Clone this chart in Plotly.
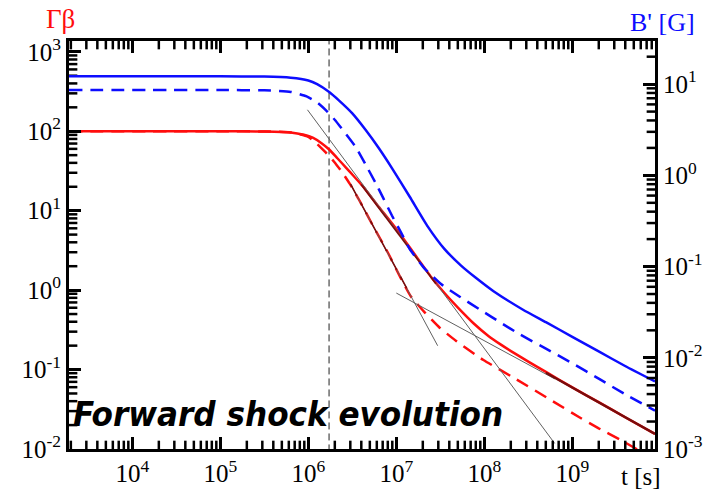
import plotly.graph_objects as go

# ---------------- data ----------------
# time grid values are log10(t [s]); curve values are log10 of the quantity
red_solid_logt = [3.28, 5.0, 5.5, 5.8, 5.95, 6.05, 6.15, 6.237, 6.33, 6.43, 6.52, 6.617, 6.8, 7.0, 7.2, 7.4,
                  7.55, 7.7, 7.88, 8.05, 8.18, 8.35, 8.5, 8.7, 9.0, 9.3, 9.6, 9.94]
red_solid_logv = [2.0, 2.0, 1.997, 1.985, 1.955, 1.92, 1.85, 1.77, 1.66, 1.54, 1.43, 1.31, 1.05, 0.77, 0.465, 0.16,
                  -0.04, -0.22, -0.42, -0.58, -0.68, -0.80, -0.90, -1.03, -1.225, -1.41, -1.60, -1.81]

red_dash_logt = [3.28, 5.0, 5.5, 5.8, 6.0, 6.1, 6.2, 6.29, 6.38, 6.47, 6.57, 6.73, 6.9, 7.06, 7.166, 7.322,
                 7.49, 7.68, 7.99, 8.36, 8.78, 9.08, 9.3, 9.54, 9.69, 9.94]
red_dash_logv = [2.0, 2.0, 1.997, 1.985, 1.93, 1.84, 1.73, 1.62, 1.49, 1.34, 1.15, 0.82, 0.48, 0.13, -0.08, -0.28,
                 -0.47, -0.64, -0.88, -1.12, -1.40, -1.60, -1.74, -1.88, -1.975, -2.13]

blue_solid_logt = [3.28, 5.0, 5.5, 5.8, 6.0, 6.1, 6.237, 6.35, 6.5, 6.65, 6.8, 6.95, 7.154, 7.356, 7.546, 7.736,
                   7.9, 8.105, 8.44, 8.7, 9.0, 9.3, 9.6, 9.94]
blue_solid_logv = [1.086, 1.086, 1.083, 1.07, 1.04, 1.00, 0.914, 0.82, 0.68, 0.50, 0.30, 0.08, -0.237, -0.559, -0.806, -0.989,
                   -1.12, -1.27, -1.473, -1.61, -1.77, -1.93, -2.09, -2.26]

blue_dash_logt = [3.28, 5.0, 5.5, 5.8, 5.98, 6.1, 6.204, 6.3, 6.394, 6.539, 6.65, 6.763, 6.852, 6.95, 7.05, 7.154,
                  7.322, 7.512, 7.725, 7.971, 8.183, 8.407, 8.7, 9.0, 9.32, 9.6, 9.94]
blue_dash_logv = [0.935, 0.935, 0.932, 0.915, 0.865, 0.80, 0.71, 0.61, 0.495, 0.31, 0.12, -0.08, -0.25, -0.44, -0.62, -0.81,
                  -1.022, -1.194, -1.333, -1.484, -1.613, -1.745, -1.90, -2.06, -2.24, -2.40, -2.58]

# analytic power-law segments (grey guide lines), log10 units
grey_a_logt = [5.99, 8.80]
grey_a_logv = [2.27, -1.93]
grey_b_logt = [6.48, 7.47]
grey_b_logv = [1.333, -0.70]
grey_c_logt = [7.0, 8.8]
grey_c_logv = [-0.037, -1.117]

# dark red analytic overlays
dr_solid1_logt = [6.6, 7.45]
dr_solid1_logv = [1.33, 0.08]
dr_solid2_logt = [8.7, 9.94]
dr_solid2_logv = [-1.04, -1.81]
dr_dash_logt = [6.48, 7.15]
dr_dash_logv = [1.333, -0.04]

t_vline = 1.72e6

x_tickvals = [1e4, 1e5, 1e6, 1e7, 1e8, 1e9]
x_ticktext = ["10<sup>4</sup>", "10<sup>5</sup>", "10<sup>6</sup>", "10<sup>7</sup>", "10<sup>8</sup>", "10<sup>9</sup>"]
yl_tickvals = [1e-2, 1e-1, 1e0, 1e1, 1e2, 1e3]
yl_ticktext = ["10<sup>-2</sup>", "10<sup>-1</sup>", "10<sup>0</sup>", "10<sup>1</sup>", "10<sup>2</sup>", "10<sup>3</sup>"]
yr_tickvals = [1e-3, 1e-2, 1e-1, 1e0, 1e1]
yr_ticktext = ["10<sup>-3</sup>", "10<sup>-2</sup>", "10<sup>-1</sup>", "10<sup>0</sup>", "10<sup>1</sup>"]

x_range_log = [3.28, 9.94]
yl_range_log = [-2.0, 3.136]
yr_range_log = [-3.0, 1.473]


def p10(vals):
    return [10 ** v for v in vals]


def minors(lo, hi, rng):
    out = []
    for e in range(lo, hi + 1):
        for m in range(2, 10):
            v = m * 10 ** e
            if 10 ** rng[0] < v < 10 ** rng[1]:
                out.append(v)
    return out


RED = "#ff0d0d"
BLUE = "#0d0dff"
DARKRED = "#7a0c0c"
GREY = "#606060"
SMOOTH = dict(shape="spline", smoothing=0.5)

# plot-area size in px (for converting tick lengths into log-axis units)
PLOT_W = 715 - 69 - 51
PLOT_H = 499 - 41 - 42
x_dec_px = PLOT_W / (x_range_log[1] - x_range_log[0])
yl_dec_px = PLOT_H / (yl_range_log[1] - yl_range_log[0])

fig = go.Figure()

# vertical dashed line
fig.add_trace(go.Scatter(x=[t_vline, t_vline], y=[1e-3, 1e4], mode="lines",
                         line=dict(color="#222222", width=1, dash="7px,4px"), showlegend=False))

# blue (right axis)
fig.add_trace(go.Scatter(x=p10(blue_solid_logt), y=p10(blue_solid_logv), mode="lines", yaxis="y2",
                         line=dict(color=BLUE, width=2.5, **SMOOTH), showlegend=False))
fig.add_trace(go.Scatter(x=p10(blue_dash_logt), y=p10(blue_dash_logv), mode="lines", yaxis="y2",
                         line=dict(color=BLUE, width=2.5, dash="13px,8px", **SMOOTH), showlegend=False))

# red (left axis)
fig.add_trace(go.Scatter(x=p10(red_solid_logt), y=p10(red_solid_logv), mode="lines",
                         line=dict(color=RED, width=2.5, **SMOOTH), showlegend=False))
fig.add_trace(go.Scatter(x=p10(red_dash_logt), y=p10(red_dash_logv), mode="lines",
                         line=dict(color=RED, width=2.5, dash="13px,8px", **SMOOTH), showlegend=False))

# grey guide lines
for gx, gy in [(grey_a_logt, grey_a_logv), (grey_b_logt, grey_b_logv), (grey_c_logt, grey_c_logv)]:
    fig.add_trace(go.Scatter(x=p10(gx), y=p10(gy), mode="lines",
                             line=dict(color=GREY, width=1), showlegend=False))

# dark red overlays
fig.add_trace(go.Scatter(x=p10(dr_solid1_logt), y=p10(dr_solid1_logv), mode="lines",
                         line=dict(color=DARKRED, width=1.6), showlegend=False))
fig.add_trace(go.Scatter(x=p10(dr_solid2_logt), y=p10(dr_solid2_logv), mode="lines",
                         line=dict(color=DARKRED, width=2.4), showlegend=False))
fig.add_trace(go.Scatter(x=p10(dr_dash_logt), y=p10(dr_dash_logv), mode="lines",
                         line=dict(color=DARKRED, width=1.6, dash="13px,8px"), showlegend=False))


# ---- inward minor tick marks on the frame (line-shaped markers placed through the axes' log scales) ----
def tick_markers(xs, ys, symbol, length_px, width, axis="y"):
    fig.add_trace(go.Scatter(x=xs, y=ys, mode="markers", yaxis=axis, cliponaxis=False,
                             marker=dict(symbol=symbol, size=length_px, color="black",
                                         line=dict(color="black", width=width)),
                             showlegend=False, hoverinfo="skip"))


def x_ticks(vals, length_px, width):
    lo, hi = 10 ** yl_range_log[0], 10 ** yl_range_log[1]
    h = 10 ** (length_px / 2 / yl_dec_px)
    tick_markers(vals, [lo * h] * len(vals), "line-ns", length_px, width)
    tick_markers(vals, [hi / h] * len(vals), "line-ns", length_px, width)


def y_ticks(vals, length_px, width, axis, right):
    lo, hi = 10 ** x_range_log[0], 10 ** x_range_log[1]
    h = 10 ** (length_px / 2 / x_dec_px)
    xpos = hi / h if right else lo * h
    tick_markers([xpos] * len(vals), vals, "line-ew", length_px, width, axis)


x_ticks(minors(3, 9, x_range_log), 7, 2.5)
y_ticks(minors(-2, 3, yl_range_log), 7, 2.5, "y", False)
y_ticks(minors(-3, 1, yr_range_log), 7, 2.5, "y2", True)

serif = "Liberation Serif, Times New Roman, serif"
tickfont = dict(family=serif, size=25, color="black")
common = dict(type="log", showgrid=False, zeroline=False, tickcolor="black",
              ticks="inside", ticklen=12, tickwidth=3, tickmode="array")

fig.update_layout(
    width=715, height=499,
    margin=dict(l=69, r=51, t=41, b=42),
    paper_bgcolor="white", plot_bgcolor="white",
    showlegend=False,
    xaxis=dict(range=x_range_log, showline=True, linecolor="black", linewidth=3, mirror="ticks",
               tickvals=x_tickvals, ticktext=x_ticktext, tickfont=tickfont, **common),
    yaxis=dict(range=yl_range_log, showline=True, linecolor="black", linewidth=3,
               tickvals=yl_tickvals, ticktext=yl_ticktext, tickfont=tickfont, **common),
    yaxis2=dict(range=yr_range_log, overlaying="y", anchor="x", side="right", showline=True,
                linecolor="black", linewidth=3,
                tickvals=yr_tickvals, ticktext=yr_ticktext, tickfont=tickfont, **common),
)

fig.add_annotation(text="Γβ", xref="paper", yref="paper", x=-0.015, y=1.055, showarrow=False,
                   xanchor="center", yanchor="middle", font=dict(family=serif, size=27, color=RED))
fig.add_annotation(text="B' [G]", xref="paper", yref="paper", x=1.012, y=1.046, showarrow=False,
                   xanchor="center", yanchor="middle", font=dict(family=serif, size=26, color=BLUE))
fig.add_annotation(text="t [s]", xref="paper", yref="paper", x=0.976, y=-0.067, showarrow=False,
                   xanchor="center", yanchor="middle", font=dict(family=serif, size=25, color="black"))
fig.add_annotation(text="Forward shock evolution", xref="paper", yref="paper", x=0.003, y=0.087,
                   showarrow=False, xanchor="left", yanchor="middle",
                   font=dict(family="DejaVu Sans Condensed, DejaVu Sans, sans-serif", size=34.6,
                             color="black", weight="bold", style="italic"))

# page at the window origin, no scrollbars, no mode bar
fig.write_html("out.html", config={"displayModeBar": False},
               post_script="document.documentElement.style.margin='0';"
                           "document.documentElement.style.overflow='hidden';"
                           "document.body.style.margin='0';document.body.style.padding='0';"
                           "document.body.style.overflow='hidden';"
                           "var d=document.getElementById('{plot_id}');d.style.display='block';"
                           "d.parentNode.style.display='block';d.parentNode.style.lineHeight='0';")
